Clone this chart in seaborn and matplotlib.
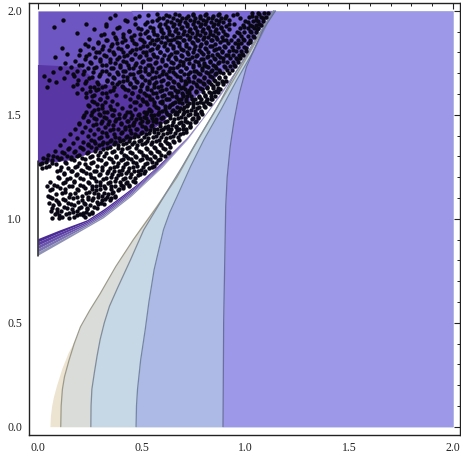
import numpy as np
import seaborn as sns
import matplotlib.pyplot as plt

# contour boundaries, x value read at each y
y_a = [0.0, 0.05, 0.1, 0.145, 0.2, 0.28, 0.355, 0.45, 0.56, 0.65, 0.74, 0.85, 0.947, 1.06, 1.2, 1.35, 1.57, 1.78, 2.0]
x_a = [0.058, 0.06, 0.066, 0.075, 0.09, 0.115, 0.145, 0.195, 0.25, 0.305, 0.36, 0.425, 0.485, 0.565, 0.66, 0.75, 0.88, 1.01, 1.135]
y_b = [0.0, 0.1, 0.18, 0.24, 0.32, 0.4, 0.48, 0.56, 0.64, 0.77, 0.9, 1.06, 1.2, 1.36, 1.58, 1.79, 2.0]
x_b = [0.11, 0.112, 0.118, 0.128, 0.15, 0.175, 0.205, 0.25, 0.3, 0.375, 0.46, 0.575, 0.67, 0.76, 0.89, 1.015, 1.135]
y_c = [0.0, 0.1, 0.18, 0.26, 0.34, 0.42, 0.5, 0.58, 0.67, 0.8, 0.947, 1.12, 1.25, 1.38, 1.53, 1.68, 1.85, 2.0]
x_c = [0.255, 0.256, 0.26, 0.272, 0.285, 0.30, 0.32, 0.345, 0.385, 0.445, 0.51, 0.615, 0.695, 0.77, 0.86, 0.94, 1.04, 1.135]
y_d = [0.0, 0.1, 0.18, 0.32, 0.466, 0.6, 0.755, 0.947, 1.03, 1.106, 1.25, 1.38, 1.53, 1.67, 1.8, 1.94, 2.0]
x_d = [0.473, 0.475, 0.48, 0.495, 0.517, 0.535, 0.56, 0.605, 0.635, 0.67, 0.735, 0.8, 0.885, 0.96, 1.035, 1.105, 1.14]
y_e = [0.0, 0.5, 0.947, 1.06, 1.2, 1.35, 1.47, 1.6, 1.73, 1.82, 1.91, 2.0]
x_e = [0.892, 0.895, 0.903, 0.905, 0.912, 0.927, 0.945, 0.97, 1.005, 1.045, 1.085, 1.145]
band_colors = ['#ece4d1', '#d9dcd8', '#c6d7e5', '#aebae6', '#9d98e8']
line_colors = [None, '#9c9a8c', '#7f8c9c', '#7585a5', '#6a6fa0']

# purple strip under the cloud
x_top = [0.0, 0.1, 0.235, 0.32, 0.396, 0.48, 0.556, 0.64, 0.72, 0.8, 0.88, 0.95, 1.01, 1.07, 1.13]
y_top = [0.905, 0.945, 0.995, 1.05, 1.106, 1.17, 1.236, 1.315, 1.394, 1.495, 1.606, 1.71, 1.8, 1.9, 2.0]
x_low = [0.0, 0.155, 0.315, 0.45, 0.6, 0.72, 0.88, 1.01, 1.13]
y_low = [0.825, 0.913, 1.005, 1.11, 1.25, 1.382, 1.596, 1.79, 1.995]
strip_colors = ['#4a2a94', '#5a3ca4', '#6a55ad', '#7a72b2', '#8f92b4']

# purple background of the cloud
x_edge = [0.0, 0.1, 0.2, 0.33, 0.49, 0.61, 0.8, 1.0, 1.13]
y_edge = [1.27, 1.275, 1.3, 1.35, 1.43, 1.48, 1.62, 1.84, 2.0]
dark_x = [0.0, 0.2, 0.3, 0.42, 0.55, 0.62, 0.5, 0.33, 0.15, 0.0]
dark_y = [1.74, 1.73, 1.65, 1.63, 1.6, 1.47, 1.4, 1.34, 1.28, 1.27]
light_x = [0.45, 1.13, 0.95, 0.7, 0.55]
light_y = [2.0, 2.0, 1.72, 1.68, 1.8]

dots_y = [1.002, 1.011, 1.021, 1.029, 1.038, 1.048, 1.056, 1.066, 1.074, 1.083,
          1.093, 1.101, 1.111, 1.119, 1.128, 1.138, 1.146, 1.156, 1.164, 1.173,
          1.183, 1.191, 1.201, 1.209, 1.218, 1.228, 1.236, 1.246, 1.254, 1.263,
          1.273, 1.281, 1.291, 1.299, 1.308, 1.318, 1.326, 1.336, 1.344, 1.353,
          1.363, 1.371, 1.381, 1.389, 1.398, 1.408, 1.416, 1.426, 1.434, 1.443,
          1.453, 1.461, 1.471, 1.479, 1.488, 1.498, 1.506, 1.516, 1.524, 1.533,
          1.543, 1.551, 1.561, 1.569, 1.578, 1.588, 1.596, 1.606, 1.614, 1.623,
          1.633, 1.641, 1.651, 1.659, 1.668, 1.678, 1.686, 1.696, 1.704, 1.713,
          1.723, 1.731, 1.741, 1.749, 1.758, 1.768, 1.776, 1.786, 1.794, 1.803,
          1.813, 1.821, 1.831, 1.839, 1.848, 1.858, 1.866, 1.876, 1.884, 1.893,
          1.903, 1.911, 1.921, 1.929, 1.938, 1.948, 1.956, 1.966, 1.974, 1.984]
dots_x = [
    [.07, .102, .148], [.118, .173, .226], [.083, .136, .201, .247], [.152, .218, .262],
    [.061, .109, .187, .279], [.091, .164, .238, .294], [.128, .207, .271, .313], [.074, .176, .252, .329],
    [.054, .143, .224, .303, .348], [.098, .195, .283, .362], [.121, .239, .322, .377], [.067, .168, .266, .351, .393],
    [.049, .214, .309, .372], [.086, .154, .291, .338, .409], [.132, .247, .361, .424], [.058, .191, .278, .388, .438],
    [.106, .229, .325, .412, .451], [.045, .163, .261, .353, .467], [.078, .202, .298, .398, .439], [.122, .244, .336, .424, .482],
    [.172, .281, .373, .457, .496], [.141, .219, .315, .409, .511], [.096, .256, .352, .446, .527], [.185, .294, .388, .481, .538],
    [.128, .232, .331, .425, .513, .553], [.164, .271, .369, .462, .567], [.108, .209, .308, .404, .498, .578], [.021, .147, .248, .346, .441, .534, .592],
    [.052, .189, .287, .383, .479, .559, .604], [.011, .086, .226, .325, .421, .516, .617], [.038, .131, .265, .362, .457, .548, .629], [.067, .174, .304, .399, .494, .581, .641],
    [.024, .112, .213, .341, .436, .527, .608, .652], [.091, .157, .252, .378, .473, .562, .664], [.049, .196, .291, .415, .508, .595, .676], [.124, .235, .329, .452, .543, .627, .686],
    [.083, .179, .273, .366, .489, .576, .653, .697], [.145, .218, .312, .403, .525, .611, .709], [.202, .258, .349, .441, .559, .638, .719], [.106, .239, .296, .386, .478, .592, .668, .728],
    [.167, .277, .333, .424, .514, .623, .739], [.219, .315, .371, .461, .548, .654, .702, .748], [.128, .256, .354, .408, .497, .583, .681, .757],
    [.188, .293, .391, .446, .532, .617, .716, .767], [.239, .331, .429, .484, .567, .651, .738, .775],
    [.156, .272, .368, .466, .521, .601, .684, .784], [.212, .309, .405, .503, .558, .636, .712, .791],
    [.251, .347, .442, .539, .594, .668, .744, .801], [.178, .288, .384, .479, .574, .629, .701, .769, .809],
    [.229, .325, .421, .516, .611, .664, .733, .818], [.266, .362, .458, .552, .645, .697, .759, .826],
    [.197, .304, .399, .494, .588, .678, .731, .788, .833], [.243, .341, .436, .531, .623, .711, .762, .841],
    [.281, .378, .473, .567, .657, .742, .799, .848], [.216, .318, .415, .509, .601, .691, .773, .856],
    [.258, .356, .452, .546, .636, .724, .804, .862], [.295, .393, .489, .581, .671, .755, .829, .869],
    [.233, .332, .431, .526, .616, .703, .785, .846, .877], [.272, .369, .541, .651, .738, .816, .884],
    [.309, .406, .577, .684, .769, .842, .891], [.248, .346, .443, .611, .716, .798, .861, .898],
    [.285, .382, .524, .646, .749, .828, .904], [.322, .471, .561, .679, .779, .853, .911],
    [.263, .358, .504, .596, .712, .808, .873, .917], [.298, .539, .631, .743, .836, .924],
    [.231, .334, .483, .572, .664, .774, .861, .931], [.271, .376, .519, .609, .697, .803, .885, .938],
    [.186, .308, .451, .553, .642, .729, .832, .944], [.249, .347, .491, .587, .675, .761, .858, .906, .951],
    [.212, .289, .422, .524, .619, .708, .789, .877, .957],
    [.043, .268, .369, .459, .561, .651, .738, .817, .898, .964], [.168, .321, .407, .496, .594, .682, .769, .843, .971],
    [.226, .356, .443, .533, .626, .714, .796, .868, .921, .977], [.086, .283, .391, .478, .569, .658, .745, .823, .891, .984],
    [.052, .194, .331, .428, .515, .603, .689, .773, .848, .913, .991],
    [.125, .247, .369, .463, .551, .636, .721, .801, .872, .997], [.031, .173, .296, .408, .498, .585, .669, .751, .827, .936, 1.004],
    [.216, .342, .444, .533, .619, .702, .781, .853, .959, 1.011], [.071, .141, .267, .383, .481, .567, .651, .733, .808, .878, 1.018],
    [.189, .309, .421, .517, .602, .684, .762, .834, .983, 1.024], [.104, .239, .351, .458, .551, .635, .715, .791, .859, 1.031],
    [.158, .281, .395, .494, .586, .668, .746, .819, .903, 1.037], [.211, .327, .434, .529, .619, .699, .774, .844, .943, 1.044],
    [.132, .255, .372, .471, .564, .651, .729, .802, .869, .998, 1.049],
    [.179, .301, .411, .507, .597, .683, .758, .829, .893, 1.056], [.227, .348, .449, .542, .629, .712, .786, .854, .961, 1.062],
    [.083, .273, .391, .486, .576, .661, .741, .813, .878, 1.017, 1.068], [.196, .319, .431, .522, .608, .691, .769, .839, .918, 1.074],
    [.141, .246, .366, .469, .556, .639, .721, .796, .864, .983, 1.079],
    [.293, .412, .505, .589, .671, .749, .822, .889, 1.033, 1.086], [.204, .341, .453, .541, .621, .701, .776, .847, .938, 1.091],
    [.118, .264, .388, .491, .574, .652, .728, .803, .871, 1.004, 1.097], [.312, .431, .526, .606, .682, .757, .829, .896, 1.052, 1.102],
    [.228, .356, .472, .561, .638, .712, .785, .854, .962, 1.107],
    [.289, .403, .512, .594, .669, .741, .811, .879, 1.024, 1.113], [.333, .451, .548, .627, .699, .768, .837, .904, 1.071, 1.117],
    [.247, .378, .493, .581, .658, .728, .794, .861, .987, 1.121], [.411, .534, .615, .687, .755, .819, .886, 1.042, 1.126],
    [.305, .462, .572, .647, .716, .781, .844, .911, 1.089],
    [.186, .362, .514, .603, .676, .743, .806, .869, .968, 1.129], [.441, .556, .634, .703, .768, .831, .893, 1.022, 1.078],
    [.271, .495, .591, .664, .731, .794, .856, .919, 1.055], [.078, .392, .541, .622, .692, .757, .818, .881, .991, 1.118],
    [.326, .583, .652, .719, .781, .843, .906, 1.034, 1.096],
    [.232, .467, .611, .682, .746, .807, .868, .947, 1.067], [.528, .641, .708, .771, .832, .893, 1.012, 1.109],
    [.123, .421, .572, .671, .734, .795, .856, .921, 1.049], [.349, .603, .696, .759, .819, .881, .976, 1.086],
    [.488, .634, .721, .783, .844, .908, 1.031, 1.124], [.572, .661, .748, .812, .874, .958, 1.063],
]

# second batch, the thick part next to the curve
dense_y = [1.016, 1.034, 1.052, 1.07, 1.088, 1.106, 1.124, 1.142, 1.16, 1.178,
           1.196, 1.214, 1.232, 1.25, 1.268, 1.286, 1.304, 1.322, 1.34, 1.358,
           1.376, 1.394, 1.412, 1.43, 1.448, 1.466, 1.484, 1.502, 1.52, 1.538,
           1.556, 1.574, 1.592, 1.61, 1.628, 1.646, 1.664, 1.682, 1.70, 1.718,
           1.736, 1.754, 1.772, 1.79, 1.808, 1.826, 1.844, 1.862, 1.88, 1.898,
           1.916, 1.934, 1.952, 1.97, 1.988]
dense_x = [
    [.10, .19, .215], [.09, .17, .23, .26], [.07, .14, .20, .235, .285], [.10, .16, .225, .29, .32],
    [.085, .13, .21, .26, .31, .345], [.06, .15, .19, .24, .29, .335, .37], [.115, .18, .23, .27, .32, .355, .40],
    [.07, .13, .19, .26, .30, .35, .39, .43], [.09, .15, .215, .28, .32, .37, .41, .44],
    [.06, .13, .175, .24, .30, .345, .395, .43, .47], [.10, .155, .205, .27, .33, .375, .42, .47, .50],
    [.125, .19, .25, .30, .355, .40, .45, .49, .52], [.09, .16, .215, .28, .34, .39, .435, .48, .515, .54],
    [.04, .11, .18, .235, .31, .365, .41, .46, .505, .55], [.02, .07, .135, .20, .255, .33, .385, .43, .475, .525, .57],
    [.045, .10, .16, .225, .29, .35, .41, .45, .50, .54, .59], [.075, .14, .19, .26, .32, .375, .425, .47, .52, .56, .61],
    [.115, .175, .24, .30, .355, .40, .445, .495, .54, .585, .63], [.15, .21, .28, .335, .385, .43, .475, .52, .565, .605, .655],
    [.24, .31, .365, .41, .455, .50, .545, .59, .63, .67], [.27, .345, .395, .44, .485, .525, .57, .61, .65, .69],
    [.305, .37, .425, .465, .51, .555, .595, .635, .675, .705], [.33, .40, .45, .495, .535, .58, .62, .66, .70, .725],
    [.36, .42, .475, .52, .56, .605, .64, .68, .715, .745], [.44, .50, .545, .59, .625, .665, .70, .735, .76],
    [.465, .525, .57, .61, .65, .69, .72, .755, .775], [.49, .55, .595, .635, .675, .71, .745, .77, .79],
    [.52, .58, .62, .66, .70, .735, .765, .79, .805], [.545, .60, .645, .68, .72, .755, .785, .81, .82],
    [.57, .63, .67, .705, .745, .775, .805, .825], [.60, .65, .695, .73, .765, .795, .82, .84],
    [.62, .675, .715, .755, .785, .815, .84, .855], [.645, .70, .74, .775, .805, .835, .855, .87],
    [.67, .72, .76, .795, .825, .85, .87, .88], [.69, .74, .78, .815, .845, .87, .89],
    [.71, .76, .80, .835, .865, .89, .905], [.73, .78, .82, .855, .885, .905, .92],
    [.75, .80, .84, .875, .90, .925, .935], [.77, .82, .86, .89, .92, .94],
    [.79, .84, .875, .91, .935, .955], [.81, .855, .895, .925, .95, .97],
    [.83, .875, .91, .94, .965, .98], [.85, .89, .925, .955, .975, .995],
    [.87, .905, .94, .97, .99, 1.005], [.885, .92, .955, .98, 1.005, 1.015],
    [.90, .935, .965, .995, 1.02], [.915, .95, .98, 1.01, 1.035],
    [.93, .965, .995, 1.02, 1.045], [.945, .98, 1.01, 1.035, 1.055],
    [.96, .995, 1.025, 1.05, 1.065], [.975, 1.01, 1.04, 1.06, 1.08],
    [.99, 1.02, 1.05, 1.075, 1.09], [1.0, 1.035, 1.06, 1.085, 1.10],
    [1.015, 1.05, 1.075, 1.10, 1.115], [1.03, 1.06, 1.09, 1.11, 1.125],
]

# third batch, the middle of the upper cloud
mid_y = [1.455, 1.47, 1.485, 1.5, 1.515, 1.53, 1.545, 1.56, 1.575, 1.59,
         1.605, 1.62, 1.635, 1.65, 1.665, 1.68, 1.695, 1.71, 1.725, 1.74,
         1.755, 1.77, 1.785, 1.8, 1.815, 1.83, 1.845, 1.86, 1.875, 1.89,
         1.905, 1.92, 1.935, 1.95, 1.965, 1.98]
mid_x = [
    [.20, .28, .34, .40, .46], [.24, .31, .37, .43, .50, .555], [.27, .33, .39, .45, .52, .60],
    [.22, .30, .36, .42, .48, .56, .63], [.26, .32, .445, .51, .585, .665], [.29, .35, .47, .535, .61, .70],
    [.24, .31, .49, .56, .635, .72], [.27, .465, .52, .59, .66, .745], [.30, .445, .50, .55, .615, .69],
    [.26, .42, .48, .535, .60, .665, .72], [.23, .33, .455, .51, .57, .63, .695], [.28, .36, .435, .49, .545, .60, .66, .73],
    [.25, .31, .41, .47, .525, .58, .64, .70], [.19, .29, .38, .445, .50, .56, .62, .675], [.23, .335, .41, .475, .535, .595, .65, .71],
    [.26, .36, .43, .50, .565, .625, .685], [.17, .30, .385, .46, .53, .60, .66, .725], [.22, .33, .41, .49, .55, .63, .69, .75],
    [.27, .36, .44, .515, .58, .65, .715], [.20, .31, .395, .47, .54, .61, .68, .745, .80], [.25, .345, .425, .50, .57, .64, .70, .77],
    [.30, .38, .455, .53, .60, .665, .73, .795], [.23, .33, .415, .49, .56, .63, .695, .76, .82], [.28, .36, .445, .52, .59, .66, .72, .785],
    [.31, .40, .475, .55, .62, .69, .75, .81, .86], [.24, .35, .43, .505, .58, .65, .715, .78, .84], [.29, .38, .465, .54, .61, .68, .745, .81],
    [.33, .42, .50, .57, .64, .705, .77, .835, .89], [.37, .45, .53, .60, .67, .735, .80, .86], [.32, .41, .49, .56, .63, .70, .765, .83, .90],
    [.44, .525, .595, .66, .73, .79, .855], [.38, .48, .555, .625, .69, .755, .82, .88], [.33, .515, .59, .655, .72, .785, .85, .92],
    [.43, .55, .62, .685, .75, .81, .875], [.47, .585, .65, .715, .78, .84, .90], [.37, .53, .615, .68, .745, .805, .87, .94],
]

tick_vals = [0.0, 0.5, 1.0, 1.5, 2.0]
tick_labels = ['0.0', '0.5', '1.0', '1.5', '2.0']
minor_vals = [0.1, 0.2, 0.3, 0.4, 0.6, 0.7, 0.8, 0.9, 1.1, 1.2, 1.3, 1.4, 1.6, 1.7, 1.8, 1.9]

sns.set_style('white')
plt.rcParams['font.family'] = ['Liberation Serif', 'DejaVu Serif']

fig = plt.figure(figsize=(4.61, 4.58), dpi=100)
ax = fig.add_axes([29/461, 1-435/458, 431/461, 432/458])

# blue bands on the right, each painted from its boundary out to x=2
bounds = [(y_a, x_a), (y_b, x_b), (y_c, x_c), (y_d, x_d), (y_e, x_e)]
for (yb, xb), fc, lc in zip(bounds, band_colors, line_colors):
    ax.fill_betweenx(yb, xb, 2.0, color=fc, lw=0)
    if lc is not None:
        sns.lineplot(x=xb, y=yb, sort=False, estimator=None, color=lc, lw=0.9, ax=ax)

# purple background above the white part
ax.fill_between(x_edge, y_edge, 2.0, color='#6d55c2', lw=0)
ax.fill(dark_x, dark_y, color='#5836a4', lw=0)
ax.fill(light_x, light_y, color='#7a68d6', lw=0)

# strip along the lower edge of the cloud
xs = np.linspace(0, 1.13, 120)
top = np.interp(xs, x_top, y_top)
low = np.interp(xs, x_low, y_low)
for i, c in enumerate(strip_colors):
    ax.fill_between(xs, top - (top-low)*i/5, top - (top-low)*(i+1)/5, color=c, lw=0)
ax.plot([0, 0], [0.82, 1.28], color='#222222', lw=1.1)

# the sample points, dropping anything read past the curve
px = np.concatenate(dots_x + dense_x + mid_x)
py = np.concatenate([np.repeat(dots_y, [len(r) for r in dots_x]),
                     np.repeat(dense_y, [len(r) for r in dense_x]),
                     np.repeat(mid_y, [len(r) for r in mid_x])])
keep = py > np.interp(px, x_top, y_top) + 0.015
sns.scatterplot(x=px[keep], y=py[keep], s=10, color='#0a0714', linewidth=0, ax=ax, zorder=5)

ax.set_xlim(-0.043, 2.034)
ax.set_ylim(-0.04, 2.038)
ax.set_xticks(tick_vals)
ax.set_xticklabels(tick_labels)
ax.set_yticks(tick_vals)
ax.set_yticklabels(tick_labels)
ax.set_xticks(minor_vals, minor=True)
ax.set_yticks(minor_vals, minor=True)
ax.tick_params(which='major', direction='in', length=4.5, width=0.8, color='#222222', top=True, right=True,
               labelsize=8.5, labelcolor='#222222', pad=5)
ax.tick_params(which='minor', direction='in', length=2.5, width=0.7, color='#222222', top=True, right=True)
for s in ax.spines.values():
    s.set_visible(True)
    s.set_color('#222222')
    s.set_linewidth(1.0)

plt.savefig('out.png', dpi=100)
